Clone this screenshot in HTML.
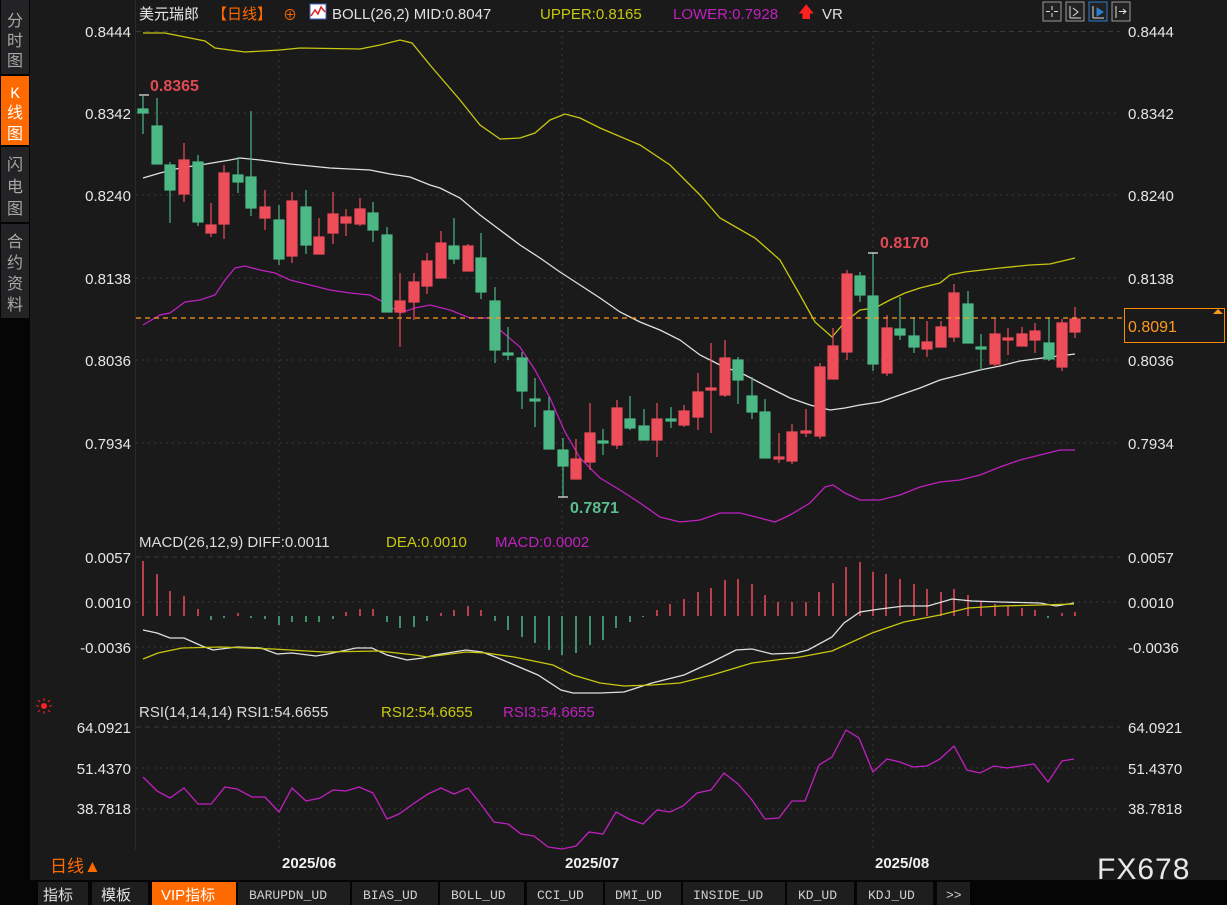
<!DOCTYPE html>
<html><head><meta charset="utf-8"><style>
body{margin:0;background:#1a1a1a;width:1227px;height:905px;overflow:hidden;font-family:"Liberation Sans","Noto Sans CJK SC",sans-serif}
svg{position:absolute;left:0;top:0}
</style></head><body>
<svg width="1227" height="905" xmlns="http://www.w3.org/2000/svg" font-family="Liberation Sans, Noto Sans CJK SC, sans-serif">
<rect width="1227" height="905" fill="#1a1a1a"/>
<!-- sidebar -->
<rect x="0" y="0" width="30" height="905" fill="#050505"/>
<rect x="1" y="0" width="28" height="74" fill="#232326"/>
<rect x="1" y="76" width="28" height="69" fill="#ff6a00"/>
<rect x="1" y="147" width="28" height="75" fill="#232326"/>
<rect x="1" y="224" width="28" height="94" fill="#232326"/>
<g font-size="16" fill="#a8a8a8" text-anchor="middle">
<text x="15" y="26">分</text><text x="15" y="46">时</text><text x="15" y="66">图</text>
<text x="15" y="98" fill="#fff" font-family="Liberation Mono, monospace">K</text><text x="15" y="118" fill="#fff">线</text><text x="15" y="139" fill="#fff">图</text>
<text x="15" y="170">闪</text><text x="15" y="192">电</text><text x="15" y="214">图</text>
<text x="15" y="247">合</text><text x="15" y="268">约</text><text x="15" y="289">资</text><text x="15" y="310">料</text>
</g>
<line x1="135.5" y1="0" x2="135.5" y2="850" stroke="#2a2a2a"/>
<!-- grid main -->
<g stroke="#3a3a3a" stroke-dasharray="2,4">
<line x1="136" y1="195" x2="1120" y2="195"/><line x1="136" y1="113" x2="1120" y2="113"/>
<line x1="136" y1="278" x2="1120" y2="278"/><line x1="136" y1="360" x2="1120" y2="360"/>
<line x1="136" y1="443" x2="1120" y2="443"/>
<line x1="136" y1="602" x2="1120" y2="602"/><line x1="136" y1="647" x2="1120" y2="647"/>
<line x1="136" y1="768" x2="1120" y2="768"/><line x1="136" y1="809" x2="1120" y2="809"/>
<line x1="279" y1="30" x2="279" y2="850"/><line x1="562" y1="30" x2="562" y2="850"/><line x1="873" y1="30" x2="873" y2="850"/>
</g>
<g stroke="#3a3a3a" stroke-dasharray="5,4">
<line x1="136" y1="31.5" x2="1120" y2="31.5"/><line x1="136" y1="557" x2="1120" y2="557"/><line x1="136" y1="727" x2="1120" y2="727"/>
</g>
<!-- header -->
<g font-size="15">
<text x="139" y="19" fill="#e8e8e8">美元瑞郎</text>
<text x="212" y="19" fill="#ff6a00">【日线】</text>
<text x="283" y="20" fill="#ff6a00" font-size="14">⊕</text>
<rect x="310" y="4" width="16" height="15" fill="#fff" stroke="#4060c0"/>
<polyline points="311,16 315,10 318,14 321,7 325,12" fill="none" stroke="#e02020" stroke-width="1.5"/>
<text x="332" y="19" fill="#e0e0e0">BOLL(26,2) MID:0.8047</text>
<text x="540" y="19" fill="#c8c810">UPPER:0.8165</text>
<text x="673" y="19" fill="#c020c0">LOWER:0.7928</text>
<text x="798" y="17" fill="#ff2020" font-size="16">🡅</text>
<text x="822" y="19" fill="#e0e0e0">VR</text>
</g>
<g fill="none" stroke="#999">
<rect x="1043" y="2" width="18" height="19" fill="#222"/><rect x="1066" y="2" width="18" height="19" fill="#222"/>
<rect x="1089" y="2" width="18" height="19" fill="#222" stroke="#2a7fd0"/><rect x="1112" y="2" width="18" height="19" fill="#222"/>
<path d="M1052 6v4M1052 13v4M1046 11.5h4M1054 11.5h4M1070 6v12M1070 18h11M1073 8l5 4-5 4M1093 6v12M1093 18h11" stroke="#ddd"/>
<path d="M1097 8l6 4-6 4z" fill="#2a7fd0" stroke="#2a7fd0"/>
<path d="M1116 6v12M1119 11.5h7M1123 9l3 2.5-3 2.5" stroke="#ddd"/>
</g>
<!-- axis labels -->
<g font-size="15" fill="#e6e6e6">
<g text-anchor="end">
<text x="131" y="37">0.8444</text><text x="131" y="119">0.8342</text><text x="131" y="201">0.8240</text>
<text x="131" y="284">0.8138</text><text x="131" y="366">0.8036</text><text x="131" y="449">0.7934</text>
<text x="131" y="563">0.0057</text><text x="131" y="608">0.0010</text><text x="131" y="653">-0.0036</text>
<text x="131" y="733">64.0921</text><text x="131" y="774">51.4370</text><text x="131" y="814">38.7818</text>
</g>
<text x="1128" y="37">0.8444</text><text x="1128" y="119">0.8342</text><text x="1128" y="201">0.8240</text>
<text x="1128" y="284">0.8138</text><text x="1128" y="366">0.8036</text><text x="1128" y="449">0.7934</text>
<text x="1128" y="563">0.0057</text><text x="1128" y="608">0.0010</text><text x="1128" y="653">-0.0036</text>
<text x="1128" y="733">64.0921</text><text x="1128" y="774">51.4370</text><text x="1128" y="814">38.7818</text>
</g>
<!-- BOLL lines -->
<polyline fill="none" stroke="#c8c810" stroke-width="1.3" points="143,33 165,33 180,36 205,41 215,48 245,52 280,50 300,48 360,49 380,45 400,40 412,43 430,65 460,100 480,125 500,139 520,138 535,133 550,120 565,114 580,118 600,128 640,145 670,165 700,195 720,218 755,238 780,260 800,295 815,322 832,337 845,322 860,310 875,308 890,300 905,293 920,288 940,283 950,275 965,272 1000,268 1030,265 1050,264 1075,258"/>
<polyline fill="none" stroke="#e0e0e0" stroke-width="1.3" points="143,178 160,173 180,168 200,165 230,160 240,158 260,160 290,164 300,165 330,168 370,170 390,174 410,177 430,185 440,188 460,198 480,215 500,230 520,245 540,258 560,272 580,285 600,298 620,312 640,322 660,330 680,340 700,355 720,365 745,375 770,388 790,398 810,405 830,410 845,408 860,405 880,402 900,395 920,388 940,380 960,375 980,370 1000,366 1020,361 1050,357 1075,354"/>
<polyline fill="none" stroke="#c020c0" stroke-width="1.3" points="143,325 160,315 170,313 185,302 200,300 215,295 225,280 235,268 245,266 260,270 275,273 290,280 310,285 330,290 350,293 370,295 385,303 400,313 415,308 430,305 450,310 470,318 490,318 500,330 520,347 535,370 550,398 565,432 580,458 600,478 620,490 640,503 660,517 680,522 700,520 720,513 740,513 760,518 775,522 790,515 810,503 825,487 833,485 845,493 860,500 880,500 900,495 920,487 940,482 960,480 980,475 1000,467 1020,460 1040,455 1060,450 1075,450"/>
<!-- candles -->
<g stroke-width="1.2">
<g stroke="#4cb886" fill="#4cb886">
<line x1="143" y1="96" x2="143" y2="134"/><rect x="138" y="109" width="10" height="4"/>
<line x1="157" y1="98" x2="157" y2="164"/><rect x="152" y="126" width="10" height="38"/>
<line x1="170" y1="162" x2="170" y2="223"/><rect x="165" y="165" width="10" height="25"/>
<line x1="198" y1="155" x2="198" y2="226"/><rect x="193" y="162" width="10" height="60"/>
<line x1="238" y1="157" x2="238" y2="193"/><rect x="233" y="175" width="10" height="7"/>
<line x1="251" y1="111" x2="251" y2="216"/><rect x="246" y="177" width="10" height="31"/>
<line x1="279" y1="205" x2="279" y2="265"/><rect x="274" y="220" width="10" height="39"/>
<line x1="306" y1="190" x2="306" y2="254"/><rect x="301" y="207" width="10" height="38"/>
<line x1="373" y1="202" x2="373" y2="242"/><rect x="368" y="213" width="10" height="17"/>
<line x1="387" y1="227" x2="387" y2="312"/><rect x="382" y="235" width="10" height="77"/>
<line x1="454" y1="218" x2="454" y2="264"/><rect x="449" y="246" width="10" height="13"/>
<line x1="481" y1="233" x2="481" y2="299"/><rect x="476" y="258" width="10" height="34"/>
<line x1="495" y1="287" x2="495" y2="363"/><rect x="490" y="301" width="10" height="49"/>
<line x1="508" y1="327" x2="508" y2="360"/><rect x="503" y="353" width="10" height="2"/>
<line x1="522" y1="352" x2="522" y2="409"/><rect x="517" y="358" width="10" height="33"/>
<line x1="535" y1="378" x2="535" y2="427"/><rect x="530" y="399" width="10" height="2"/>
<line x1="549" y1="397" x2="549" y2="449"/><rect x="544" y="411" width="10" height="38"/>
<line x1="563" y1="438" x2="563" y2="497"/><rect x="558" y="450" width="10" height="16"/>
<line x1="603" y1="429" x2="603" y2="455"/><rect x="598" y="441" width="10" height="2"/>
<line x1="630" y1="396" x2="630" y2="430"/><rect x="625" y="419" width="10" height="9"/>
<line x1="644" y1="409" x2="644" y2="440"/><rect x="639" y="426" width="10" height="14"/>
<line x1="671" y1="407" x2="671" y2="428"/><rect x="666" y="419" width="10" height="2"/>
<line x1="738" y1="357" x2="738" y2="404"/><rect x="733" y="360" width="10" height="20"/>
<line x1="752" y1="377" x2="752" y2="419"/><rect x="747" y="396" width="10" height="16"/>
<line x1="765" y1="399" x2="765" y2="458"/><rect x="760" y="412" width="10" height="46"/>
<line x1="860" y1="272" x2="860" y2="302"/><rect x="855" y="276" width="10" height="19"/>
<line x1="873" y1="253" x2="873" y2="371"/><rect x="868" y="296" width="10" height="68"/>
<line x1="900" y1="297" x2="900" y2="340"/><rect x="895" y="329" width="10" height="6"/>
<line x1="914" y1="317" x2="914" y2="353"/><rect x="909" y="336" width="10" height="11"/>
<line x1="968" y1="291" x2="968" y2="343"/><rect x="963" y="304" width="10" height="39"/>
<line x1="981" y1="334" x2="981" y2="370"/><rect x="976" y="347" width="10" height="2"/>
<line x1="1049" y1="317" x2="1049" y2="361"/><rect x="1044" y="343" width="10" height="16"/>
</g>
<g stroke="#ee4d5a" fill="#ee4d5a">
<line x1="184" y1="143" x2="184" y2="202"/><rect x="179" y="160" width="10" height="34"/>
<line x1="211" y1="203" x2="211" y2="237"/><rect x="206" y="225" width="10" height="8"/>
<line x1="224" y1="165" x2="224" y2="239"/><rect x="219" y="173" width="10" height="51"/>
<line x1="265" y1="190" x2="265" y2="230"/><rect x="260" y="207" width="10" height="11"/>
<line x1="292" y1="192" x2="292" y2="263"/><rect x="287" y="201" width="10" height="55"/>
<line x1="319" y1="218" x2="319" y2="254"/><rect x="314" y="237" width="10" height="17"/>
<line x1="333" y1="192" x2="333" y2="244"/><rect x="328" y="214" width="10" height="19"/>
<line x1="346" y1="209" x2="346" y2="236"/><rect x="341" y="217" width="10" height="6"/>
<line x1="360" y1="198" x2="360" y2="226"/><rect x="355" y="209" width="10" height="15"/>
<line x1="400" y1="273" x2="400" y2="347"/><rect x="395" y="301" width="10" height="11"/>
<line x1="414" y1="273" x2="414" y2="320"/><rect x="409" y="282" width="10" height="20"/>
<line x1="427" y1="253" x2="427" y2="294"/><rect x="422" y="261" width="10" height="25"/>
<line x1="441" y1="231" x2="441" y2="278"/><rect x="436" y="243" width="10" height="35"/>
<line x1="468" y1="244" x2="468" y2="271"/><rect x="463" y="246" width="10" height="25"/>
<line x1="576" y1="439" x2="576" y2="479"/><rect x="571" y="459" width="10" height="20"/>
<line x1="590" y1="403" x2="590" y2="470"/><rect x="585" y="433" width="10" height="29"/>
<line x1="617" y1="400" x2="617" y2="449"/><rect x="612" y="408" width="10" height="37"/>
<line x1="657" y1="403" x2="657" y2="457"/><rect x="652" y="419" width="10" height="21"/>
<line x1="684" y1="405" x2="684" y2="427"/><rect x="679" y="411" width="10" height="14"/>
<line x1="698" y1="373" x2="698" y2="430"/><rect x="693" y="392" width="10" height="25"/>
<line x1="711" y1="343" x2="711" y2="433"/><rect x="706" y="388" width="10" height="2"/>
<line x1="725" y1="340" x2="725" y2="397"/><rect x="720" y="358" width="10" height="37"/>
<line x1="779" y1="433" x2="779" y2="463"/><rect x="774" y="457" width="10" height="2"/>
<line x1="792" y1="424" x2="792" y2="464"/><rect x="787" y="432" width="10" height="29"/>
<line x1="806" y1="409" x2="806" y2="437"/><rect x="801" y="431" width="10" height="2"/>
<line x1="820" y1="363" x2="820" y2="439"/><rect x="815" y="367" width="10" height="69"/>
<line x1="833" y1="328" x2="833" y2="379"/><rect x="828" y="346" width="10" height="33"/>
<line x1="847" y1="270" x2="847" y2="360"/><rect x="842" y="274" width="10" height="78"/>
<line x1="887" y1="315" x2="887" y2="376"/><rect x="882" y="328" width="10" height="45"/>
<line x1="927" y1="321" x2="927" y2="357"/><rect x="922" y="342" width="10" height="7"/>
<line x1="941" y1="321" x2="941" y2="347"/><rect x="936" y="327" width="10" height="20"/>
<line x1="954" y1="284" x2="954" y2="342"/><rect x="949" y="293" width="10" height="44"/>
<line x1="995" y1="318" x2="995" y2="367"/><rect x="990" y="334" width="10" height="30"/>
<line x1="1008" y1="328" x2="1008" y2="355"/><rect x="1003" y="338" width="10" height="2"/>
<line x1="1022" y1="327" x2="1022" y2="346"/><rect x="1017" y="334" width="10" height="12"/>
<line x1="1035" y1="323" x2="1035" y2="353"/><rect x="1030" y="331" width="10" height="9"/>
<line x1="1062" y1="319" x2="1062" y2="371"/><rect x="1057" y="323" width="10" height="44"/>
<line x1="1075" y1="307" x2="1075" y2="338"/><rect x="1070" y="319" width="10" height="13"/>
</g>
<g stroke="#eee"><line x1="139" y1="95" x2="149" y2="95"/><line x1="558" y1="497" x2="568" y2="497"/><line x1="868" y1="253" x2="878" y2="253"/></g>
</g>
<text x="150" y="91" fill="#e04a55" font-size="16" font-weight="bold">0.8365</text>
<text x="880" y="248" fill="#e04a55" font-size="16" font-weight="bold">0.8170</text>
<text x="570" y="513" fill="#5cbf8f" font-size="16" font-weight="bold">0.7871</text>
<!-- current price line -->
<line x1="136" y1="318" x2="1122" y2="318" stroke="#ff9a20" stroke-dasharray="5,4" stroke-width="1.2"/>
<rect x="1124.5" y="308.5" width="100" height="34" fill="#1a1a1a" stroke="#ff8c00"/>
<text x="1128" y="332" fill="#ff9a20" font-size="16">0.8091</text>
<path d="M1213 314l5-5 5 5z" fill="#ff9a20"/>
<!-- MACD -->
<text x="139" y="547" font-size="15" fill="#dcdcdc">MACD(26,12,9) DIFF:0.0011</text>
<text x="386" y="547" font-size="15" fill="#c8c810">DEA:0.0010</text>
<text x="495" y="547" font-size="15" fill="#c020c0">MACD:0.0002</text>
<g stroke="#ee4d5a" stroke-width="1.5">
<path d="M143 616V561M157 616V574M170 616V591M184 616V596M198 616V609M238 616V613M346 616V612M360 616V609M373 616V609M441 616V613M454 616V610M468 616V606M481 616V610M657 616V610M670 616V604M684 616V599M698 616V592M711 616V588M725 616V580M738 616V579M752 616V584M765 616V595M778 616V602M792 616V602M806 616V602M819 616V592M833 616V583M846 616V567M860 616V562M873 616V572M886 616V574M900 616V579M914 616V584M927 616V589M941 616V592M954 616V589M968 616V595M981 616V602M995 616V604M1008 616V606M1022 616V608M1035 616V610M1062 616V613M1075 616V612"/>
</g>
<g stroke="#4cb886" stroke-width="1.5">
<path d="M211 616V620M224 616V618M251 616V618M265 616V619M279 616V625M292 616V622M306 616V622M319 616V622M333 616V619M387 616V622M400 616V628M414 616V627M427 616V621M495 616V621M508 616V630M522 616V637M535 616V643M549 616V650M562 616V655M576 616V653M590 616V645M603 616V640M616 616V628M630 616V622M643 616V617M1048 616V618"/>
</g>
<polyline fill="none" stroke="#e0e0e0" stroke-width="1.3" points="143,630 157,633 170,638 184,638 202,646 213,650 237,647 261,648 277,654 292,653 316,656 328,654 356,648 372,648 387,655 407,660 423,658 435,655 466,650 482,652 498,658 538,675 561,690 573,693 600,693 624,692 652,683 684,675 712,662 736,650 752,649 772,654 796,653 808,650 832,637 844,623 860,612 880,609 904,606 928,606 952,599 972,601 1000,602 1040,603 1056,606 1074,603"/>
<polyline fill="none" stroke="#c8c810" stroke-width="1.3" points="143,659 158,653 182,648 221,647 273,649 324,652 379,651 415,655 427,657 466,652 486,653 514,657 553,665 573,675 600,683 624,686 652,685 680,683 712,675 752,663 800,657 832,651 872,633 904,622 940,615 968,608 1000,606 1040,605 1074,604"/>
<!-- RSI -->
<circle cx="44" cy="706" r="3" fill="#ff2020"/>
<g stroke="#ff2020" stroke-width="1"><path d="M44 698v3M44 711v3M36 706h3M49 706h3M38 700l2 2M48 710l2 2M50 700l-2 2M38 712l2-2"/></g>
<text x="139" y="717" font-size="15" fill="#dcdcdc">RSI(14,14,14) RSI1:54.6655</text>
<text x="381" y="717" font-size="15" fill="#c8c810">RSI2:54.6655</text>
<text x="503" y="717" font-size="15" fill="#c020c0">RSI3:54.6655</text>
<polyline fill="none" stroke="#c020c0" stroke-width="1.3" points="143,777 157,791 170,798 184,788 198,804 211,804 225,787 237,789 252,797 265,797 279,812 292,788 306,801 320,798 333,790 346,791 359,787 373,793 387,819 399,814 413,804 428,794 441,788 454,794 468,788 480,803 494,822 508,824 521,834 534,836 548,847 562,849 576,846 589,832 603,834 616,812 629,819 643,824 657,810 670,812 683,806 697,793 711,790 724,773 738,784 752,800 765,819 779,818 792,801 805,801 819,765 832,757 846,730 859,738 873,772 887,759 900,762 913,767 927,766 940,759 954,746 967,770 980,773 994,766 1007,768 1021,766 1034,764 1048,782 1062,761 1074,759"/>
<!-- x axis -->
<g font-size="15" fill="#f0f0f0" font-weight="bold">
<text x="282" y="868">2025/06</text><text x="565" y="868">2025/07</text><text x="875" y="868">2025/08</text>
</g>
<text x="50" y="872" font-size="17" fill="#ff6a00">日线▲</text>
<text x="1097" y="879" font-size="30" fill="#e8e8e8" letter-spacing="1">FX678</text>
<!-- bottom tabs -->
<rect x="0" y="880" width="1227" height="25" fill="#050505"/>
<g fill="#1e1e1e">
<rect x="38" y="882" width="50" height="23"/><rect x="92" y="882" width="56" height="23"/>
<rect x="238" y="882" width="112" height="23"/><rect x="352" y="882" width="86" height="23"/>
<rect x="440" y="882" width="84" height="23"/><rect x="527" y="882" width="76" height="23"/>
<rect x="605" y="882" width="76" height="23"/><rect x="683" y="882" width="102" height="23"/>
<rect x="787" y="882" width="67" height="23"/><rect x="857" y="882" width="76" height="23"/>
<rect x="937" y="882" width="33" height="23"/>
</g>
<rect x="152" y="882" width="84" height="23" fill="#ff6a00"/>
<g font-size="15" fill="#e0e0e0">
<text x="43" y="900">指标</text><text x="101" y="900">模板</text>
<text x="161" y="900" fill="#fff">VIP指标</text>
</g>
<g font-size="13" fill="#d0d0d0" font-family="Liberation Mono, monospace">
<text x="249" y="899">BARUPDN_UD</text><text x="363" y="899">BIAS_UD</text><text x="451" y="899">BOLL_UD</text>
<text x="537" y="899">CCI_UD</text><text x="615" y="899">DMI_UD</text><text x="693" y="899">INSIDE_UD</text>
<text x="798" y="899">KD_UD</text><text x="868" y="899">KDJ_UD</text><text x="946" y="899">&gt;&gt;</text>
</g>
</svg>
</body></html>
